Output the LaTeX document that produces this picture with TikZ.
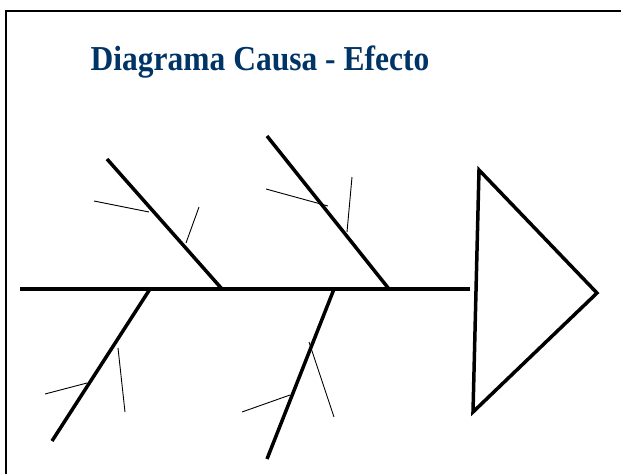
\documentclass[tikz,border=0pt]{standalone}
\usepackage{fontspec}
\setmainfont{Liberation Serif}
\definecolor{titleblue}{RGB}{0,51,102}
\begin{document}
\begin{tikzpicture}[x=1pt,y=-1pt,
  bone/.style={line width=3.5pt,line cap=butt},
  tick/.style={line width=0.9pt},
  frame/.style={line width=1.6pt},
  title/.style={font=\fontsize{35}{40}\selectfont\bfseries,text=titleblue,inner sep=0pt,xscale=0.9}]
\useasboundingbox (0,0) rectangle (621,474);
% frame
\draw[frame] (6,474) -- (6,11) -- (621,11);
% title
\node[title] (t) at (260,62) {Diagrama Causa - Efecto};
% spine
\coordinate (s0) at (20,289);
\coordinate (s1) at (470,289);
\draw[bone] (s0) -- (s1);
% head
\coordinate (h1) at (479,170);
\coordinate (h2) at (597,293);
\coordinate (h3) at (473,412);
\draw[bone,line join=miter] (h1) -- (h2) -- (h3) -- cycle;
% bone 1 upper
\coordinate (a0) at (107,159);
\coordinate (a1) at (222,289);
\draw[bone] (a0) -- (a1);
\draw[tick] (94,201) -- (149,212);
\draw[tick] (199,207) -- (186,243);
% bone 2 lower
\coordinate (b0) at (150,289);
\coordinate (b1) at (52,441);
\draw[bone] (b0) -- (b1);
\draw[tick] (45,394) -- (87,383);
\draw[tick] (118,348) -- (125,412);
% bone 3 upper
\coordinate (c0) at (267,136);
\coordinate (c1) at (389,289);
\draw[bone] (c0) -- (c1);
\draw[tick] (266,189) -- (328,206);
\draw[tick] (352,177) -- (347,232);
% bone 4 lower
\coordinate (d0) at (334,289);
\coordinate (d1) at (267,459);
\draw[bone] (d0) -- (d1);
\draw[tick] (242,412) -- (290,395);
\draw[tick] (309,342) -- (334,417);
\end{tikzpicture}
\end{document}
